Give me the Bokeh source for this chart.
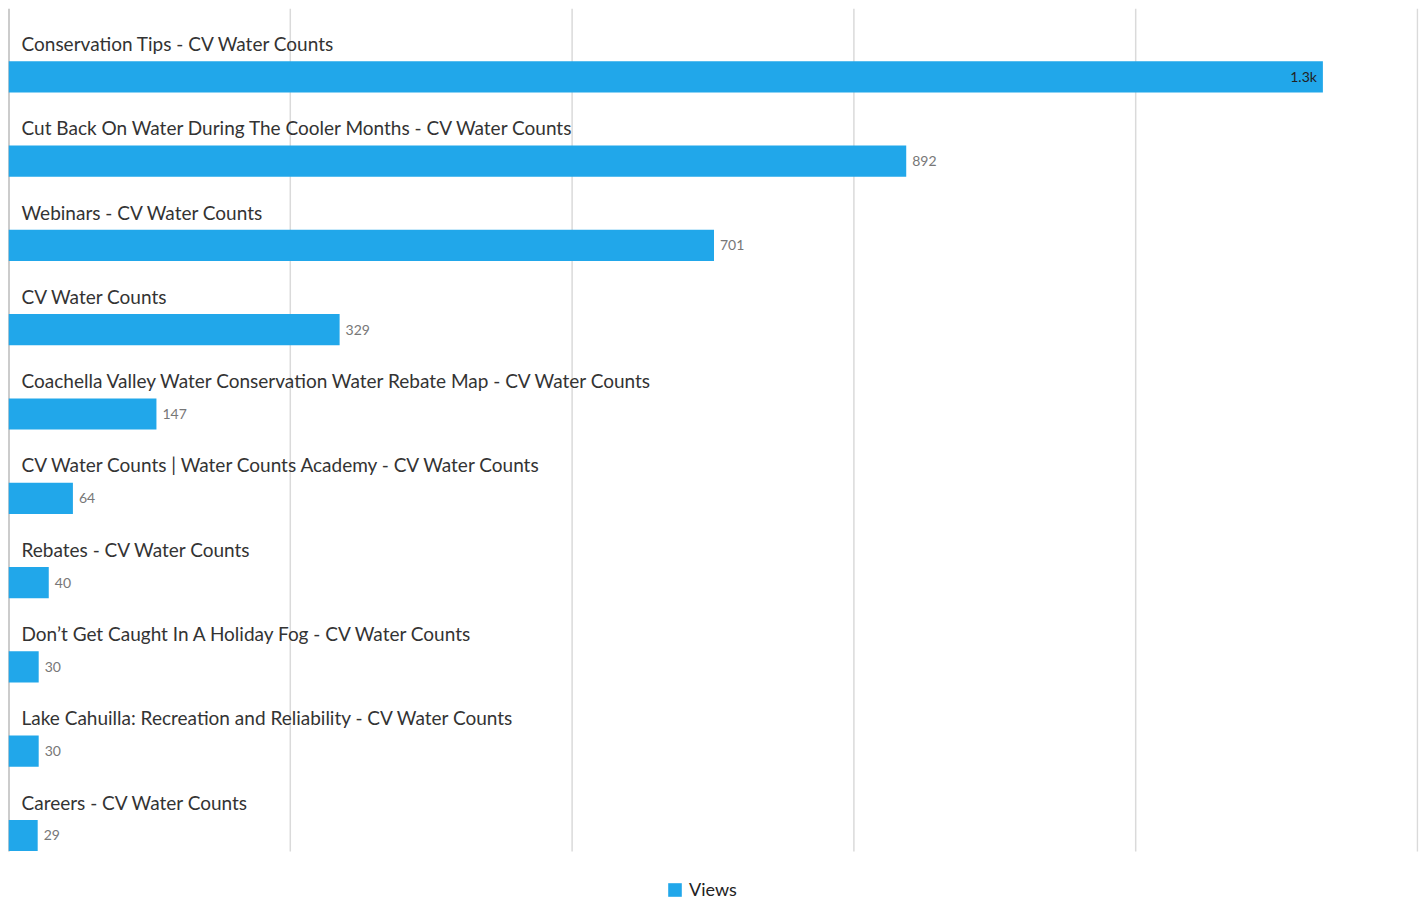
from bokeh.plotting import figure
from bokeh.models import ColumnDataSource, Range1d, Legend, LegendItem
from bokeh.core.properties import value
from bokeh.embed import file_html
from bokeh.resources import INLINE

pages = [
    "Conservation Tips - CV Water Counts",
    "Cut Back On Water During The Cooler Months - CV Water Counts",
    "Webinars - CV Water Counts",
    "CV Water Counts",
    "Coachella Valley Water Conservation Water Rebate Map - CV Water Counts",
    "CV Water Counts | Water Counts Academy - CV Water Counts",
    "Rebates - CV Water Counts",
    "Don\u2019t Get Caught In A Holiday Fog - CV Water Counts",
    "Lake Cahuilla: Recreation and Reliability - CV Water Counts",
    "Careers - CV Water Counts",
]
views = [1306, 892, 701, 329, 147, 64, 40, 30, 30, 29]
x_ticks = [0, 280, 560, 840, 1120, 1400]

BAR = "#21a7ea"
FONT = "Lato"

def fmt(v):
    return f"{v/1000:.1f}k" if v >= 1000 else str(v)

n = len(pages)
idx = list(range(n))
bar_y = [i + 0.81 for i in idx]
lab_y = [i + 0.415 for i in idx]

src = ColumnDataSource(dict(y=bar_y, ly=lab_y, v=views, name=pages))
vmax = max(views)
ins = [i for i in idx if views[i] == vmax]
outs = [i for i in idx if views[i] != vmax]
inside = ColumnDataSource(dict(y=[bar_y[i] for i in ins], v=[views[i] for i in ins],
                               lbl=[fmt(views[i]) for i in ins]))
outside = ColumnDataSource(dict(y=[bar_y[i] for i in outs], v=[views[i] for i in outs],
                                lbl=[fmt(views[i]) for i in outs]))

# frame extends below the rows to hold the legend
y_bottom = n * 892 / 843
p = figure(frame_width=1410, frame_height=892, output_backend="svg", toolbar_location=None,
           x_range=Range1d(0, 1401), y_range=Range1d(y_bottom, 0),
           min_border_left=8, min_border_right=2, min_border_top=8, min_border_bottom=0)
p.outline_line_color = None
p.xaxis.visible = False
p.yaxis.visible = False
p.grid.visible = False
p.background_fill_color = "white"

# vertical grid lines, limited to the rows area
p.segment(x0=x_ticks[1:], x1=x_ticks[1:], y0=0, y1=n, line_color="#dadada", line_width=1.5)
p.segment(x0=x_ticks[:1], x1=x_ticks[:1], y0=0, y1=n, line_color="#9a9a9a", line_width=2)

r = p.hbar(y="y", right="v", left=0, height=0.37, source=src, fill_color=BAR, line_color=None)

p.text(x=0, y="ly", text="name", source=src, x_offset=13, text_baseline="middle",
       text_font=value(FONT), text_font_size="19px", text_color="#333333")

p.text(x="v", y="y", text="lbl", source=outside, x_offset=6, text_baseline="middle",
       text_align="left", text_font=value(FONT), text_font_size="14px", text_color="#777777")
p.text(x="v", y="y", text="lbl", source=inside, x_offset=-6, text_baseline="middle",
       text_align="right", text_font=value(FONT), text_font_size="14px", text_color="#222222")

legend = Legend(items=[LegendItem(label="Views", renderers=[r])], location=(658, 0),
                orientation="horizontal", label_text_font=FONT, label_text_font_size="18px",
                label_text_color="#222222", glyph_width=17, glyph_height=17, label_height=17,
                label_standoff=6, border_line_color=None, background_fill_alpha=0,
                margin=0, padding=0)
p.add_layout(legend, "center")

open("out.html", "w").write(file_html(p, INLINE))
